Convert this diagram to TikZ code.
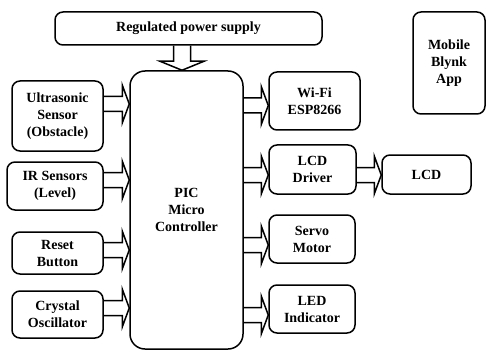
\documentclass[tikz,border=0pt]{standalone}
\usepackage{fontspec}
\setmainfont{Liberation Serif}
\usetikzlibrary{calc}

\tikzset{
  blk/.style={draw, line width=1.5pt, rounded corners=8pt, align=center, inner sep=2pt,
    font=\bfseries\fontsize{14}{17}\selectfont},
  fatarrow/.style n args={3}{line width=1.5pt, to path={
    let \p1=(\tikztostart), \p2=(\tikztotarget),
        \n1={veclen(\x2-\x1,\y2-\y1)}, \n2={atan2(\y2-\y1,\x2-\x1)} in
    ($(\p1)+(\n2+90:#1)$) -- ($(\p1)+(\n2:\n1-#3)+(\n2+90:#1)$)
    -- ($(\p1)+(\n2:\n1-#3)+(\n2+90:#2)$) -- (\p2)
    -- ($(\p1)+(\n2:\n1-#3)+(\n2-90:#2)$) -- ($(\p1)+(\n2:\n1-#3)+(\n2-90:#1)$)
    -- ($(\p1)+(\n2-90:#1)$)}},
  fat/.style={fatarrow={7.5}{19}{7}},
}

\begin{document}
\begin{tikzpicture}[x=1pt,y=1pt]
  \useasboundingbox (0,0) rectangle (486,351);

  \node[blk, minimum width=267pt, minimum height=33pt] (pwr) at (188.5,322.5) {Regulated power supply};
  \node[blk, rounded corners=15pt, minimum width=113pt, minimum height=278pt] (pic) at (186.5,141) {PIC\\Micro\\Controller};
  \node[blk, minimum width=72pt, minimum height=102pt] (app) at (449,288) {Mobile\\Blynk\\App};

  \node[blk, minimum width=91pt, minimum height=70pt] (us) at (57.5,235) {Ultrasonic\\Sensor\\(Obstacle)};
  \node[blk, minimum width=96pt, minimum height=48pt] (ir) at (55,165) {IR Sensors\\(Level)};
  \node[blk, minimum width=91pt, minimum height=42pt] (rst) at (57.5,98) {Reset\\Button};
  \node[blk, minimum width=91pt, minimum height=47pt] (xtal) at (57.5,36.5) {Crystal\\Oscillator};

  \node[blk, minimum width=91pt, minimum height=58pt] (wifi) at (314.5,250) {Wi-Fi\\ESP8266};
  \node[blk, minimum width=87pt, minimum height=49pt] (drv) at (312.5,181.5) {LCD\\Driver};
  \node[blk, minimum width=89pt, minimum height=39pt, right of=drv, node distance=114pt, yshift=-5pt] (lcd) {LCD};
  \node[blk, minimum width=86pt, minimum height=48pt] (servo) at (312,112) {Servo\\Motor};
  \node[blk, minimum width=86pt, minimum height=48pt] (led) at (312,42) {LED\\Indicator};

  \draw[fatarrow={8.5}{22}{9}, transform canvas={xshift=-6.5pt}] (pwr.south) to (pwr.south |- pic.north);

  \draw[fat, transform canvas={yshift=12pt}] (us.east) to (pic.west |- us.east);
  \draw[fat, transform canvas={yshift=6pt}] (ir.east) to (pic.west |- ir.east);
  \draw[fat, transform canvas={yshift=3pt}] (rst.east) to (pic.west |- rst.east);
  \draw[fat, transform canvas={yshift=6.5pt}] (xtal.east) to (pic.west |- xtal.east);

  \draw[fat, transform canvas={yshift=-4.5pt}] (pic.east |- wifi.west) to (wifi.west);
  \draw[fat, transform canvas={yshift=-5.5pt}] (pic.east |- drv.west) to (drv.west);
  \draw[fat, transform canvas={yshift=-5.5pt}] (drv.east) to (drv.east -| lcd.west);
  \draw[fat, transform canvas={yshift=-6pt}] (pic.east |- servo.west) to (servo.west);
  \draw[fat, transform canvas={yshift=-6pt}] (pic.east |- led.west) to (led.west);
\end{tikzpicture}
\end{document}
